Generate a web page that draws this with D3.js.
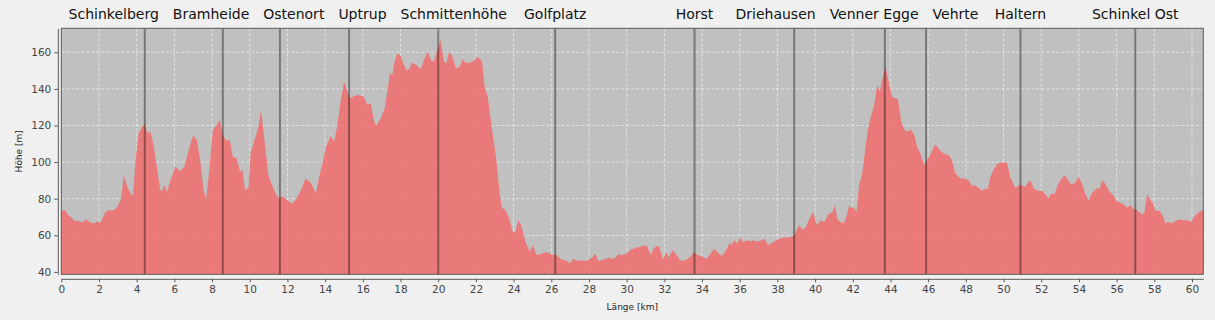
<!DOCTYPE html>
<html>
<head>
<meta charset="utf-8">
<script src="https://cdn.jsdelivr.net/npm/d3@7"></script>
<style>
  body { margin: 0; background: #f0f0f0; }
  svg { display: block; font-family: "DejaVu Sans", sans-serif; }
</style>
</head>
<body>
<div id="chart"></div>
<script>
// distance along the route [km] and elevation [m]
var distKm = [0, 0.19, 0.33, 0.50, 0.68, 0.85, 1.12, 1.30, 1.56, 1.74, 1.91, 2.05, 2.18, 2.35, 2.53, 2.79, 2.97, 3.15, 3.23, 3.32, 3.50, 3.67, 3.81, 3.94, 4.11, 4.29, 4.41, 4.59, 4.73, 4.91, 5.12, 5.26, 5.35, 5.47, 5.61, 5.79, 6.05, 6.32, 6.53, 6.76, 6.99, 7.20, 7.37, 7.55, 7.69, 7.87, 8.04, 8.22, 8.40, 8.57, 8.75, 8.93, 9.10, 9.31, 9.49, 9.61, 9.75, 9.93, 10.05, 10.28, 10.46, 10.60, 10.76, 10.99, 11.25, 11.52, 11.74, 11.99, 12.26, 12.48, 12.70, 12.96, 13.15,
  13.24, 13.51, 13.68, 13.86, 14.04, 14.30, 14.48, 14.65, 14.83, 15.01, 15.18, 15.32, 15.54, 15.80, 16.07, 16.24, 16.42, 16.56, 16.70, 16.95, 17.16, 17.30, 17.44, 17.57, 17.69, 17.83, 18.01, 18.18, 18.32, 18.45, 18.62, 18.85, 19.07, 19.28, 19.45, 19.63, 19.77, 19.95, 20.13, 20.30, 20.44, 20.58, 20.74, 20.94, 21.15, 21.29, 21.45, 21.71, 21.93, 22.10, 22.33, 22.47, 22.63, 22.86, 23.09, 23.27, 23.39, 23.51, 23.74, 23.96, 24.10, 24.24, 24.40, 24.63, 24.86, 25.01, 25.24, 25.51, 25.77, 25.95,
  26.04, 26.21, 26.39, 26.57, 26.83, 27.01, 27.15, 27.36, 27.71, 27.89, 28.07, 28.24, 28.33, 28.51, 28.77, 29.04, 29.30, 29.57, 29.75, 30.01, 30.22, 30.54, 30.81, 31.07, 31.28, 31.42, 31.60, 31.74, 31.92, 32.10, 32.22, 32.45, 32.66, 32.84, 33.10, 33.37, 33.58, 33.76, 33.99, 34.25, 34.46, 34.64, 34.82, 35.05, 35.28, 35.45, 35.58, 35.70, 35.88, 36.02, 36.19, 36.37, 36.58, 36.72, 36.90, 37.17, 37.29, 37.52, 37.79, 38.00, 38.31, 38.63,
  38.80, 38.92, 39.15, 39.33, 39.51, 39.68, 39.89, 40.09, 40.30, 40.48, 40.74, 40.92, 41.06, 41.18, 41.36, 41.53, 41.71, 41.80, 41.92, 42.03, 42.20, 42.33, 42.50, 42.68, 42.80, 42.95, 43.12, 43.30, 43.44, 43.56, 43.74, 43.92, 44.09, 44.27, 44.39, 44.57, 44.74, 44.92, 45.06, 45.24, 45.41, 45.59, 45.80, 45.94, 46.16, 46.38, 46.61, 46.83, 47.09, 47.27, 47.44, 47.71, 47.97, 48.15, 48.32, 48.50, 48.68, 48.85, 49.03, 49.15, 49.33, 49.56, 49.74, 50.00, 50.18, 50.35, 50.62, 50.88, 51.15, 51.38,
  51.42, 51.60, 51.81, 52.04, 52.22, 52.39, 52.52, 52.70, 52.87, 53.05, 53.23, 53.37, 53.55, 53.76, 53.99, 54.17, 54.34, 54.52, 54.70, 54.93, 55.11, 55.23, 55.41, 55.59, 55.82, 55.99, 56.21, 56.38, 56.56, 56.74, 56.88, 57.09, 57.36, 57.48, 57.62, 57.80, 57.94, 58.07, 58.30, 58.48, 58.60, 58.78, 58.90, 59.13, 59.31, 59.54, 59.75, 59.93, 60.11, 60.37, 60.60];

var elevM = [73.3, 73.7, 71.5, 70, 68, 68, 67, 68.6, 67, 66.4, 67.7, 66.7, 69, 72.8, 73.7, 73.7, 75.5, 79, 84.6, 92.8, 86.5, 82.8, 81.9, 101, 115.7, 119.3, 120.8, 115.7, 116.6, 108.4, 93.8, 84.3, 84.3, 87.4, 83.7, 90, 97.4, 95.2, 97.4, 106.5, 114.7, 112, 101, 84.6, 79.5, 97.4, 117.5, 119.7, 123.3, 114.7, 111.6, 112.3, 102.9, 102, 94.7, 96, 85, 85.6, 104.7, 112.9, 119.3, 128.8, 113.8, 92.8, 85.6, 80.1, 81.3, 79.2, 77.3, 80.1, 84.3, 91, 89.2,
  88.7, 82.8, 91.9, 99.2, 108.4, 114.2, 111.1, 120.2, 133.9, 143.9, 138.5, 134.8, 136.1, 136.6, 135.7, 131.2, 132.1, 123.9, 119.7, 123.9, 129.3, 138.5, 148.5, 147.6, 154.9, 159.5, 158, 153.1, 150, 150.7, 154.3, 153.1, 150.7, 156.7, 160.4, 155.4, 154.9, 161.3, 166.8, 154.9, 154, 160.4, 158, 151.2, 152.2, 156.2, 154.3, 154.3, 155.8, 157.6, 154.9, 140.3, 135.7, 117.5, 101, 81.9, 74.6, 74.6, 70, 61.8, 61.8, 68.2, 65.5, 56.4, 50.9, 54.6, 49.1, 50, 50.9, 50,
  49.1, 49.6, 48.1, 46.7, 45.9, 44.8, 47.2, 46.3, 46.3, 45.9, 47.2, 48.5, 50, 45.9, 46.7, 47.8, 47, 49.6, 49.1, 50, 52.2, 53.3, 54, 54.6, 49.1, 52.7, 54.2, 53.6, 46.7, 50.9, 47.8, 51.8, 49.1, 46.3, 46.3, 48.1, 50.9, 49.1, 48.5, 47.2, 50, 52.7, 50.9, 48.5, 51.8, 55.8, 54.6, 57.3, 55.5, 58.8, 56.4, 57.3, 56.6, 57.3, 56.6, 57.3, 58.2, 54.6, 56.4, 57.7, 58.8, 58.8,
  59.5, 60.9, 65.5, 63.1, 64.6, 68.6, 72.8, 65.5, 68.2, 67.3, 71.9, 72.8, 76.4, 68.6, 67.3, 66.4, 71.9, 76.4, 74.6, 75.5, 72.8, 87.4, 93.8, 108.4, 117.5, 124.8, 130.3, 142.1, 138.5, 144.9, 152.2, 143, 135.7, 134.8, 134.8, 122, 117.5, 116.6, 117.9, 115.3, 108.4, 104.7, 98.3, 101, 105.1, 109.8, 106.5, 104.7, 103.8, 101, 93.8, 91, 91, 90.1, 87, 87.4, 85.9, 84.3, 85.6, 85, 92.8, 97.4, 99.6, 99.6, 99.8, 91.9, 85.9, 87.7, 86.5, 89.8,
  90.1, 85.6, 84.3, 84.3, 82.4, 80.1, 82.8, 82.4, 87.4, 90.5, 92.8, 91, 88, 88.3, 91.9, 88, 82.4, 79.2, 83.2, 85.6, 85.6, 90.1, 88, 84.3, 81.9, 78.8, 77.7, 77, 75.1, 76.4, 74.6, 73.7, 71.3, 72.8, 82.4, 79.2, 77.3, 73.3, 73.3, 70, 66.4, 67.3, 66.4, 67.8, 68.6, 68.2, 68.2, 67.3, 70, 72.8, 73.7];

// waypoints along the route
var stopNames = ["Schinkelberg", "Bramheide", "Ostenort", "Uptrup", "Schmittenhöhe", "Golfplatz", "Horst", "Driehausen", "Venner Egge", "Vehrte", "Haltern", "Schinkel Ost"];
var stopKm = [4.43, 8.57, 11.60, 15.27, 20.0, 26.21, 33.6, 38.89, 43.70, 45.89, 50.9, 56.99];

var xTicks = d3.range(0, 61, 2);
var yTicks = [40, 60, 80, 100, 120, 140, 160];

var width = 1215, height = 320;
var plotL = 61.3, plotR = 1203.3, plotT = 28.3, plotB = 274.3;

var data = distKm.map(function(d, i) { return { km: d, h: elevM[i] }; });

var x = d3.scaleLinear().domain([0, 60.6]).range([plotL, plotR]);
var y = d3.scaleLinear().domain([38.7, 173.1]).range([plotB, plotT]);

var svg = d3.select("#chart").append("svg")
  .attr("width", width)
  .attr("height", height);

svg.append("rect")
  .attr("width", width).attr("height", height)
  .attr("fill", "#f0f0f0");

svg.append("rect")
  .attr("x", plotL).attr("y", plotT)
  .attr("width", plotR - plotL).attr("height", plotB - plotT)
  .attr("fill", "#c0c0c0");

// grid
var grid = svg.append("g").attr("stroke", "#ffffff").attr("stroke-opacity", 0.55)
  .attr("stroke-dasharray", "3,2").attr("stroke-width", 1);
grid.selectAll("line.v").data(xTicks).enter().append("line")
  .attr("x1", function(d) { return x(d); }).attr("x2", function(d) { return x(d); })
  .attr("y1", plotT).attr("y2", plotB);
grid.selectAll("line.h").data(yTicks).enter().append("line")
  .attr("x1", plotL).attr("x2", plotR)
  .attr("y1", function(d) { return y(d); }).attr("y2", function(d) { return y(d); });

// elevation profile
var area = d3.area()
  .x(function(d) { return x(d.km); })
  .y0(plotB)
  .y1(function(d) { return y(d.h); });

svg.append("path")
  .datum(data)
  .attr("d", area)
  .attr("fill", "#f26a69")
  .attr("fill-opacity", 0.82);

// waypoint markers
svg.append("g").selectAll("line").data(stopKm).enter().append("line")
  .attr("x1", function(d) { return x(d); }).attr("x2", function(d) { return x(d); })
  .attr("y1", plotT).attr("y2", plotB)
  .attr("stroke", "#000").attr("stroke-opacity", 0.38).attr("stroke-width", 2);

// frame
svg.append("rect")
  .attr("x", plotL).attr("y", plotT)
  .attr("width", plotR - plotL).attr("height", plotB - plotT)
  .attr("fill", "none").attr("stroke", "#5a5a5a").attr("stroke-width", 1);

// axes (offset outward like the original)
var xAxis = svg.append("g")
  .attr("transform", "translate(0," + (plotB + 4.5) + ")")
  .call(d3.axisBottom(x).tickValues(xTicks).tickSize(3.5).tickSizeOuter(0).tickPadding(3));
var yAxis = svg.append("g")
  .attr("transform", "translate(" + (plotL - 3.5) + ",0)")
  .call(d3.axisLeft(y).tickValues(yTicks).tickSize(3.5).tickSizeOuter(0).tickPadding(3));

[xAxis, yAxis].forEach(function(a) {
  a.select(".domain").attr("stroke", "#5a5a5a");
  a.selectAll(".tick line").attr("stroke", "#5a5a5a");
  a.selectAll(".tick text")
    .attr("fill", "#444")
    .style("font-family", "DejaVu Sans")
    .style("font-size", "10.5px");
});

svg.append("text")
  .attr("x", (plotL + plotR) / 2).attr("y", 310)
  .attr("text-anchor", "middle")
  .attr("fill", "#222")
  .style("font-size", "9px")
  .text("Länge [km]");

svg.append("text")
  .attr("transform", "translate(22," + ((plotT + plotB) / 2) + ") rotate(-90)")
  .attr("text-anchor", "middle")
  .attr("fill", "#222")
  .style("font-size", "9px")
  .text("Höhe [m]");

// waypoint names, pushed apart where they would collide
var names = svg.append("g").selectAll("text").data(stopNames).enter().append("text")
  .attr("y", 19)
  .attr("text-anchor", "middle")
  .attr("fill", "#111")
  .style("font-size", "14px")
  .text(function(d) { return d; });

var boxes = names.nodes().map(function(n, i) {
  return { x: x(stopKm[i]), w: n.getComputedTextLength() };
});
var gap = 14;
for (var it = 0; it < 300; it++) {
  for (var i = 0; i < boxes.length - 1; i++) {
    var a = boxes[i], b = boxes[i + 1];
    var need = (a.w + b.w) / 2 + gap;
    if (b.x - a.x < need) {
      var s = (need - (b.x - a.x)) / 2;
      a.x -= s; b.x += s;
    }
  }
}
names.attr("x", function(d, i) { return boxes[i].x; });
</script>
</body>
</html>
